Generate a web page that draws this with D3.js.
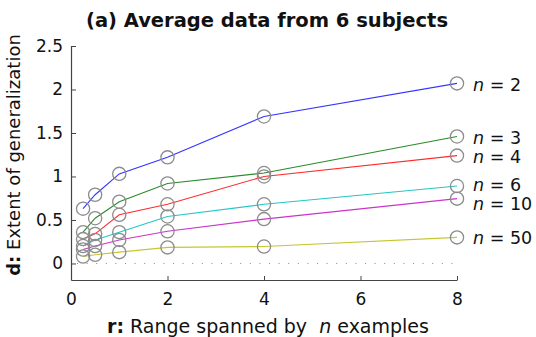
<!DOCTYPE html>
<html>
<head>
<meta charset="utf-8">
<script src="https://cdn.jsdelivr.net/npm/d3@7"></script>
<style>
  body { margin: 0; background: #ffffff; }
  svg { display: block; font-family: "DejaVu Sans", Verdana, sans-serif; }
</style>
</head>
<body>
<div id="chart"></div>
<script>
// Range spanned by n examples (x positions)
const ranges = [0.25, 0.5, 1, 2, 4, 8];

// series: number of examples n
const nValues = [2, 3, 4, 6, 10, 50];
const seriesColors = ['#3535ff', '#2b8a2b', '#ff2b2b', '#25c6c6', '#cc33cc', '#c6c632'];

// extent of generalization, one array per n
const ext_n2  = [0.63, 0.79, 1.03, 1.22, 1.69, 2.07];
const ext_n3  = [0.36, 0.52, 0.71, 0.92, 1.04, 1.46];
const ext_n4  = [0.28, 0.34, 0.56, 0.68, 1.00, 1.24];
const ext_n6  = [0.20, 0.27, 0.36, 0.54, 0.68, 0.89];
const ext_n10 = [0.16, 0.20, 0.27, 0.37, 0.51, 0.745];
const ext_n50 = [0.08, 0.10, 0.13, 0.185, 0.195, 0.30];
const allSeries = [ext_n2, ext_n3, ext_n4, ext_n6, ext_n10, ext_n50];

// label vertical offsets (pixels) so n=6 / n=10 sit like the original
const labelShift = [1, 1, 1, -1, 5, 0];

const xTicks = [0, 2, 4, 6, 8];
const yTicks = [0, 0.5, 1, 1.5, 2, 2.5];

const width = 536, height = 337;

const svg = d3.select('#chart').append('svg')
    .attr('width', width)
    .attr('height', height);

const x = d3.scaleLinear().domain([0, 8]).range([71, 457]);
const y = d3.scaleLinear().domain([-0.19, 2.5]).range([280, 46]);

// zero reference line (dotted)
svg.append('line')
    .attr('x1', x(0) + 6)
    .attr('x2', x(8))
    .attr('y1', y(0))
    .attr('y2', y(0))
    .attr('stroke', '#888')
    .attr('stroke-width', 1)
    .attr('stroke-dasharray', '1,8.6');

// axes
const xAxis = d3.axisBottom(x)
    .tickValues(xTicks)
    .tickFormat(d => d)
    .tickSizeInner(-4)
    .tickSizeOuter(0)
    .tickPadding(13);

const yAxis = d3.axisLeft(y)
    .tickValues(yTicks)
    .tickFormat(d => d)
    .tickSizeInner(-5)
    .tickSizeOuter(0)
    .tickPadding(8);

const gx = svg.append('g')
    .attr('transform', `translate(0,${y(-0.19)})`)
    .call(xAxis);

const gy = svg.append('g')
    .attr('transform', `translate(${x(0)},0)`)
    .call(yAxis);

[gx, gy].forEach(g => {
    g.select('.domain').attr('stroke', '#444').attr('stroke-width', 1.2);
    g.selectAll('.tick line').attr('stroke', '#444');
    g.selectAll('.tick text')
        .attr('font-family', '"DejaVu Sans", Verdana, sans-serif')
        .attr('font-size', '17px')
        .attr('fill', '#111');
});

// lines
const line = d3.line()
    .x((d, i) => x(ranges[i]))
    .y(d => y(d));

allSeries.forEach((vals, k) => {
    svg.append('path')
        .datum(vals)
        .attr('d', line)
        .attr('fill', 'none')
        .attr('stroke', seriesColors[k])
        .attr('stroke-width', 1.1);
});

// circle markers
allSeries.forEach(vals => {
    svg.append('g')
        .selectAll('circle')
        .data(vals)
        .join('circle')
        .attr('cx', (d, i) => x(ranges[i]))
        .attr('cy', d => y(d))
        .attr('r', 6.6)
        .attr('fill', 'none')
        .attr('stroke', '#8c8c8c')
        .attr('stroke-width', 1.3);
});

// right-hand labels
allSeries.forEach((vals, k) => {
    const t = svg.append('text')
        .attr('x', 473)
        .attr('y', y(vals[vals.length - 1]) + labelShift[k])
        .attr('dy', '0.36em')
        .attr('font-size', '17.5px')
        .attr('fill', '#111');
    t.append('tspan').attr('font-style', 'italic').text('n');
    t.append('tspan').text(' = ' + nValues[k]);
});

// title
svg.append('text')
    .attr('x', 267)
    .attr('y', 27)
    .attr('text-anchor', 'middle')
    .attr('font-size', '19.5px')
    .attr('font-weight', 'bold')
    .attr('fill', '#111')
    .text('(a) Average data from 6 subjects');

// x axis title (double space before n kept as in original)
const xt = svg.append('text')
    .attr('x', 268)
    .attr('y', 333)
    .attr('text-anchor', 'middle')
    .attr('font-size', '19px')
    .style('white-space', 'pre')
    .attr('fill', '#111');
xt.append('tspan').attr('font-weight', 'bold').text('r:');
xt.append('tspan').text(' Range spanned by  ');
xt.append('tspan').attr('font-style', 'italic').text('n');
xt.append('tspan').text(' examples');

// y axis title
const yt = svg.append('text')
    .attr('transform', 'translate(20,155) rotate(-90)')
    .attr('text-anchor', 'middle')
    .attr('font-size', '18px')
    .attr('fill', '#111');
yt.append('tspan').attr('font-weight', 'bold').text('d:');
yt.append('tspan').text(' Extent of generalization');
</script>
</body>
</html>
